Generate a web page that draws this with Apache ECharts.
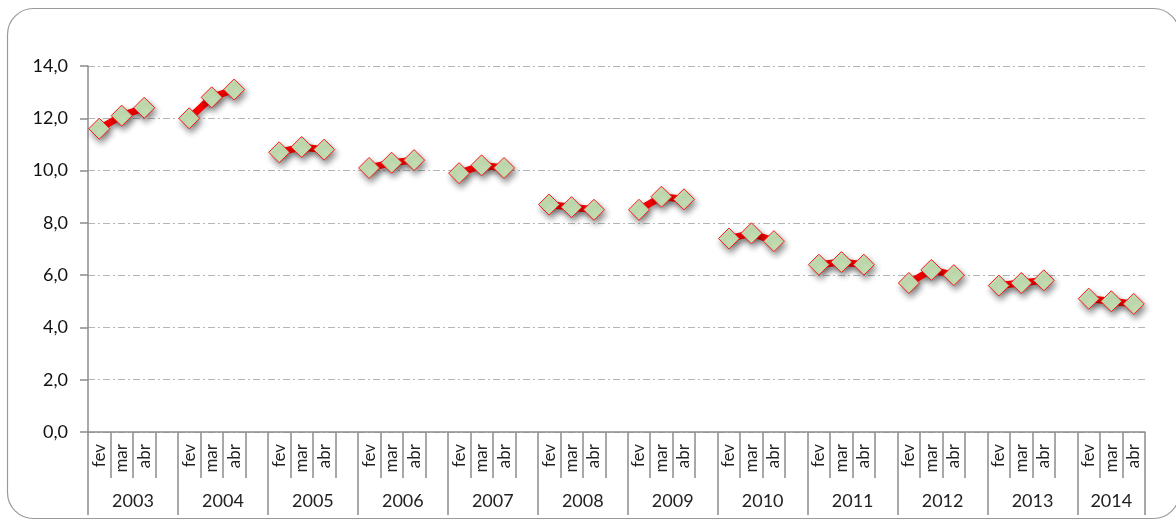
<!DOCTYPE html>
<html>
<head>
<meta charset="utf-8">
<script src="https://cdn.jsdelivr.net/npm/echarts@6/dist/echarts.min.js"></script>
<style>
html,body{margin:0;padding:0;background:#fff;}
#c{width:1176px;height:524px;}
</style>
</head>
<body>
<div id="c"></div>
<script>
var years = ['2003','2004','2005','2006','2007','2008','2009','2010','2011','2012','2013','2014'];
var months = ['fev','mar','abr'];
var fev = [11.6, 12.0, 10.7, 10.1, 9.9, 8.7, 8.5, 7.4, 6.4, 5.7, 5.6, 5.1];
var mar = [12.1, 12.8, 10.9, 10.3, 10.2, 8.6, 9.0, 7.6, 6.5, 6.2, 5.7, 5.0];
var abr = [12.4, 13.1, 10.8, 10.4, 10.1, 8.5, 8.9, 7.3, 6.4, 6.0, 5.8, 4.9];
var yTicks = [0, 2, 4, 6, 8, 10, 12, 14];

var cats = [], vals = [], yearTickPos = [], yearLabelPos = [], yearAt = {};
years.forEach(function (y, i) {
  var start = cats.length;
  yearTickPos.push(start);
  var v = [fev[i], mar[i], abr[i]];
  months.forEach(function (m, j) { cats.push(m); vals.push(v[j]); });
  var last = i === years.length - 1;
  if (!last) { cats.push(''); vals.push(null); }
  var width = last ? 3 : 4;
  var center = start + width / 2;
  yearLabelPos.push(center);
  yearAt[center] = y;
});
yearTickPos.push(cats.length);

var FONT = 'Lato';
var chart = echarts.init(document.getElementById('c'), null, {renderer: 'canvas'});
chart.setOption({
  animation: false,
  backgroundColor: '#fff',
  graphic: [{
    type: 'rect',
    shape: {x: 7.5, y: 8.5, width: 1172, height: 510, r: 26},
    style: {fill: 'none', stroke: '#9a9a9a', lineWidth: 1.2},
    z: -10
  }],
  grid: {left: 88, right: 31, top: 66, bottom: 92, containLabel: false},
  xAxis: [{
    type: 'category',
    data: cats,
    boundaryGap: true,
    axisLine: {show: true, lineStyle: {color: '#8c8c8c', width: 1.5}},
    axisTick: {show: true, interval: 0, length: 46, lineStyle: {color: '#8c8c8c', width: 1.5}},
    axisLabel: {interval: 0, rotate: 90, margin: 12, fontSize: 17, color: '#222', fontFamily: FONT},
    splitLine: {show: false}
  }, {
    type: 'value',
    min: 0,
    max: cats.length,
    position: 'bottom',
    axisLine: {show: false},
    splitLine: {show: false},
    axisTick: {show: true, customValues: yearTickPos, length: 83, lineStyle: {color: '#8c8c8c', width: 1.5}},
    axisLabel: {
      show: true, customValues: yearLabelPos, margin: 60, fontSize: 18, color: '#222', fontFamily: FONT,
      formatter: function (v) { return yearAt[v] || ''; }
    }
  }],
  yAxis: {
    type: 'value',
    min: 0, max: 14, interval: 2,
    axisLine: {show: true, lineStyle: {color: '#8c8c8c', width: 1.5}},
    axisTick: {show: true, length: 8, lineStyle: {color: '#8c8c8c', width: 1.5}},
    axisLabel: {
      margin: 20, fontSize: 18, color: '#111', fontFamily: FONT,
      formatter: function (v) { return v.toFixed(1).replace('.', ','); }
    },
    splitLine: {show: true, lineStyle: {color: '#b5b5b5', width: 1.2, type: [7, 3, 2, 3]}}
  },
  series: [{
    type: 'line',
    xAxisIndex: 0,
    data: vals,
    connectNulls: false,
    symbol: 'diamond',
    symbolSize: 21,
    lineStyle: {color: '#ff0000', width: 7, shadowColor: 'rgba(0,0,0,0.35)', shadowBlur: 5, shadowOffsetX: 2, shadowOffsetY: 3},
    itemStyle: {color: '#c5dfb3', borderColor: '#ff1a1a', borderWidth: 1,
      shadowColor: 'rgba(0,0,0,0.45)', shadowBlur: 6, shadowOffsetX: 2, shadowOffsetY: 4},
    emphasis: {disabled: true}
  }]
});
</script>
</body>
</html>
